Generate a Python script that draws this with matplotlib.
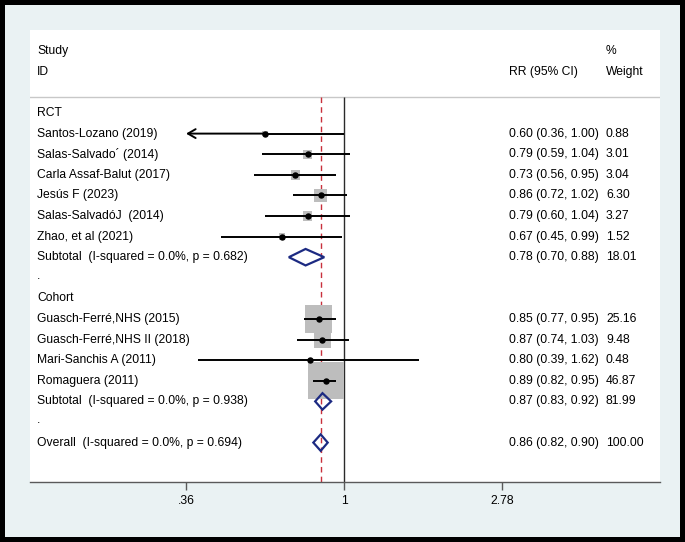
import matplotlib
matplotlib.use("Agg")
import matplotlib.pyplot as plt
import numpy as np
from matplotlib.patches import Rectangle, Polygon
from matplotlib.transforms import blended_transform_factory

# ---------------- data ----------------
rct_studies = ["Santos-Lozano (2019)", "Salas-Salvado\u00b4 (2014)", "Carla Assaf-Balut (2017)",
               "Jes\u00fas F (2023)", "Salas-Salvad\u00f3J  (2014)", "Zhao, et al (2021)"]
rct_rr = [0.60, 0.79, 0.73, 0.86, 0.79, 0.67]
rct_lo = [0.36, 0.59, 0.56, 0.72, 0.60, 0.45]
rct_hi = [1.00, 1.04, 0.95, 1.02, 1.04, 0.99]
rct_w = [0.88, 3.01, 3.04, 6.30, 3.27, 1.52]

cohort_studies = ["Guasch-Ferr\u00e9,NHS (2015)", "Guasch-Ferr\u00e9,NHS II (2018)",
                  "Mari-Sanchis A (2011)", "Romaguera (2011)"]
cohort_rr = [0.85, 0.87, 0.80, 0.89]
cohort_lo = [0.77, 0.74, 0.39, 0.82]
cohort_hi = [0.95, 1.03, 1.62, 0.95]
cohort_w = [25.16, 9.48, 0.48, 46.87]

group_names = ["RCT", "Cohort"]
sub_rr = [0.78, 0.87]
sub_lo = [0.70, 0.83]
sub_hi = [0.88, 0.92]
sub_w = [18.01, 81.99]
sub_i2 = ["0.0%", "0.0%"]
sub_p = ["0.682", "0.938"]

overall_rr, overall_lo, overall_hi, overall_w = 0.86, 0.82, 0.90, 100.00
overall_i2, overall_p = "0.0%", "0.694"

xticks = [0.36, 1.0, 2.78]
xticklabels = [".36", "1", "2.78"]

# ---------------- layout ----------------
W, H = 685, 542
fig = plt.figure(figsize=(W / 100, H / 100), dpi=100)
fig.patch.set_facecolor("black")

def fx(px):
    return px / W

def fy(py):
    return 1 - py / H

bg = Rectangle((fx(5), fy(537)), fx(680) - fx(5), fy(5) - fy(537),
               transform=fig.transFigure, facecolor="#eaf2f3",
               edgecolor="none", zorder=-10)
fig.patches.append(bg)

ax = fig.add_axes([fx(30), fy(482), fx(660) - fx(30), fy(30) - fy(482)])
ax.set_zorder(5)
ax.set_facecolor("white")
ax.set_xscale("log")
x_px_null, px_per_log = 344.0, 154.6
ax.set_xlim(np.exp((30 - x_px_null) / px_per_log), np.exp((660 - x_px_null) / px_per_log))
row_top_px, row_step = 113.0, 20.6
ax.set_ylim((482 - row_top_px) / row_step, (30 - row_top_px) / row_step)

FONT = "Liberation Sans"
FS = 8.7
tr = blended_transform_factory(ax.transAxes, ax.transData)
x_lab, x_rr, x_w = (37 - 30) / 630, (509 - 30) / 630, (606 - 30) / 630

def txt(x, y, s):
    ax.text(x, y, s, transform=tr, ha="left", va="center", fontsize=FS,
            family=FONT, color="black", clip_on=False)

# header
txt(x_lab, -3, "Study")
txt(x_lab, -2, "ID")
txt(x_rr, -2, "RR (95% CI)")
txt(x_w, -3, "%")
txt(x_w, -2, "Weight")
header_line = -0.78
ax.axhline(header_line, color="#c8c8c8", lw=1.0, zorder=1)

bottom = ax.get_ylim()[0]
ax.vlines(1.0, header_line, bottom, color="#2a2a2a", lw=1.0, zorder=1)
ax.vlines(overall_rr, header_line, bottom, color="#c8303c", lw=1.0,
          linestyles=(0, (4, 3)), zorder=1)

BOX = "#bdbdbd"
DIAM = "#1c2a82"

def study_row(y, name, rr, lo, hi, w):
    txt(x_lab, y, name)
    txt(x_rr, y, f"{rr:.2f} ({lo:.2f}, {hi:.2f})")
    txt(x_w, y, f"{w:.2f}")
    ax.scatter([rr], [y], s=15.1 * w, marker="s", color=BOX, edgecolors="none", zorder=2)
    if lo <= min(xticks):
        ax.plot([rr, hi], [y, y], color="black", lw=1.4, zorder=3, solid_capstyle="butt")
        ax.annotate("", xy=(min(xticks), y), xytext=(rr, y),
                    arrowprops=dict(arrowstyle="->,head_length=0.55,head_width=0.32",
                                    color="black", lw=1.4, shrinkA=0, shrinkB=0),
                    zorder=3)
    else:
        ax.plot([lo, hi], [y, y], color="black", lw=1.4, zorder=3, solid_capstyle="butt")
    ax.plot([rr], [y], "o", color="black", ms=3.6, zorder=4)

def diamond(y, rr, lo, hi):
    h = 0.4
    ax.add_patch(Polygon([(lo, y), (rr, y - h), (hi, y), (rr, y + h)], closed=True,
                         fill=False, edgecolor=DIAM, lw=1.6, zorder=3))

groups = [
    (rct_studies, rct_rr, rct_lo, rct_hi, rct_w),
    (cohort_studies, cohort_rr, cohort_lo, cohort_hi, cohort_w),
]
row = 0
for gi, (names, rr, lo, hi, w) in enumerate(groups):
    txt(x_lab, row, group_names[gi])
    row += 1
    for k in range(len(names)):
        study_row(row, names[k], rr[k], lo[k], hi[k], w[k])
        row += 1
    txt(x_lab, row, f"Subtotal  (I-squared = {sub_i2[gi]}, p = {sub_p[gi]})")
    txt(x_rr, row, f"{sub_rr[gi]:.2f} ({sub_lo[gi]:.2f}, {sub_hi[gi]:.2f})")
    txt(x_w, row, f"{sub_w[gi]:.2f}")
    diamond(row, sub_rr[gi], sub_lo[gi], sub_hi[gi])
    row += 1
    txt(x_lab, row - 0.1, ".")
    row += 1

txt(x_lab, row, f"Overall  (I-squared = {overall_i2}, p = {overall_p})")
txt(x_rr, row, f"{overall_rr:.2f} ({overall_lo:.2f}, {overall_hi:.2f})")
txt(x_w, row, f"{overall_w:.2f}")
diamond(row, overall_rr, overall_lo, overall_hi)

# axes styling
for s in ["top", "right", "left"]:
    ax.spines[s].set_visible(False)
ax.spines["bottom"].set_color("#5a5a5a")
ax.spines["bottom"].set_linewidth(1.0)
ax.set_yticks([])
ax.set_xticks(xticks)
ax.set_xticklabels(xticklabels, fontsize=FS, family=FONT)
ax.xaxis.set_minor_locator(matplotlib.ticker.NullLocator())
ax.tick_params(axis="x", direction="out", length=5.5, width=1.0, color="#5a5a5a", pad=4)

fig.savefig("out.png", dpi=100, facecolor=fig.get_facecolor())
